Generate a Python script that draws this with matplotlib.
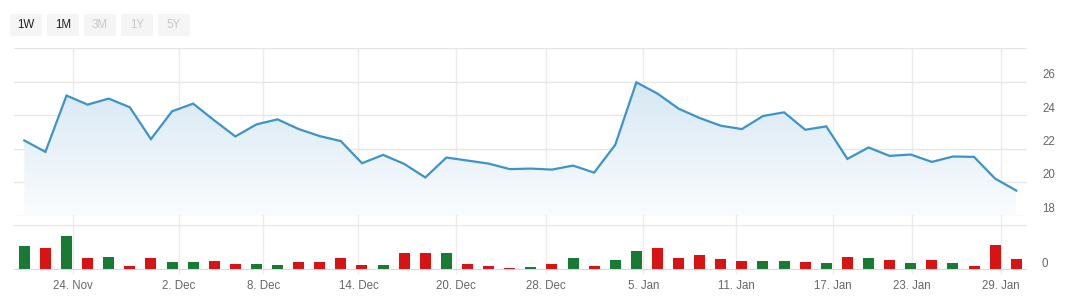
import numpy as np
import matplotlib
matplotlib.use("Agg")
import matplotlib.pyplot as plt
from matplotlib.patches import FancyBboxPatch
from matplotlib.colors import LinearSegmentedColormap

plt.rcParams['font.family'] = ['Liberation Sans', 'DejaVu Sans']

# ---------------- data ----------------
prices = [22.48, 21.80, 25.16, 24.62, 24.98, 24.46, 22.56, 24.22, 24.68, 23.68,
          22.72, 23.44, 23.74, 23.16, 22.74, 22.44, 21.12, 21.62, 21.08, 20.27,
          21.46, 21.28, 21.10, 20.77, 20.80, 20.74, 20.98, 20.56, 22.22, 25.95,
          25.28, 24.38, 23.82, 23.36, 23.16, 23.94, 24.16, 23.12, 23.32, 21.38,
          22.06, 21.56, 21.64, 21.20, 21.52, 21.50, 20.20, 19.49]
volumes = [24, 22, 34, 12, 13, 4, 12, 8, 8, 9,
           6, 6, 5, 8, 8, 12, 5, 5, 17, 17,
           17, 6, 4, 2, 3, 6, 12, 4, 10, 19,
           22, 12, 15, 11, 9, 9, 9, 8, 7, 13,
           12, 10, 7, 10, 7, 4, 25, 11]
direction = ['up', 'down', 'up', 'down', 'up', 'down', 'down', 'up', 'up', 'down',
             'down', 'up', 'up', 'down', 'down', 'down', 'down', 'up', 'down', 'down',
             'up', 'down', 'down', 'down', 'up', 'down', 'up', 'down', 'up', 'up',
             'down', 'down', 'down', 'down', 'down', 'up', 'up', 'down', 'up', 'down',
             'up', 'down', 'up', 'down', 'up', 'down', 'down', 'down']
tick_labels = ['24. Nov', '2. Dec', '8. Dec', '14. Dec', '20. Dec', '28. Dec',
               '5. Jan', '11. Jan', '17. Jan', '23. Jan', '29. Jan']
tick_index = [2.32, 7.32, 11.32, 15.83, 20.44, 24.73, 29.33, 33.73, 38.32, 42.06, 46.29]
price_ticks = [18, 20, 22, 24, 26]
buttons = ['1W', '1M', '3M', '1Y', '5Y']
button_active = [True, True, False, False, False]

# ---------------- layout ----------------
W, H = 1073, 305
fig = plt.figure(figsize=(W / 100, H / 100), dpi=100)
fig.patch.set_facecolor('white')

def fx(px):
    return px / W

def fy(py):
    return 1 - py / H

left, right = 14, 1027
xlim = (-0.488, 47.51)
grid_c = '#e6e6e6'
label_c = '#666666'

# background axes for vertical gridlines spanning both panes
bg = fig.add_axes([fx(left), fy(274), fx(right - left), (274 - 48) / H])
bg.set_xlim(*xlim)
bg.set_ylim(0, 1)
bg.axis('off')
for t in tick_index:
    bg.axvline(t, color='#ececec', lw=1, zorder=0)

# price axes
ax = fig.add_axes([fx(left), fy(215.5), fx(right - left), (215.5 - 48) / H])
ax.patch.set_alpha(0)
ax.set_xlim(*xlim)
ax.set_ylim(18, 28)
for s in ax.spines.values():
    s.set_visible(False)
ax.set_xticks([])
ax.set_yticks([])
for g in [18, 20, 22, 24, 26, 28]:
    ax.axhline(g, color=grid_c, lw=1, zorder=1)

x = np.arange(len(prices))
# gradient fill under line
poly = ax.fill_between(x, prices, 18, color='none', lw=0)
cmap = LinearSegmentedColormap.from_list('g', ['#fafcfe', '#d6e7f3'])
grad = np.linspace(0, 1, 256).reshape(-1, 1)
im = ax.imshow(grad, cmap=cmap, origin='lower', aspect='auto',
               extent=[x[0], x[-1], 18, 26.2], zorder=2, interpolation='bilinear')
im.set_clip_path(poly.get_paths()[0], transform=ax.transData)
ax.plot(x, prices, color='#3b94cb', lw=1.6, zorder=3, solid_joinstyle='miter')

for v in price_ticks:
    ax.annotate(str(v), xy=(1, v), xycoords=('axes fraction', 'data'),
                xytext=(15, 6.5), textcoords='offset pixels',
                ha='left', va='center', fontsize=8.3, color=label_c)

# volume axes
vax = fig.add_axes([fx(left), fy(270), fx(right - left), (270 - 225) / H])
vax.patch.set_alpha(0)
vax.set_xlim(*xlim)
vax.set_ylim(0, 45)
for s in vax.spines.values():
    s.set_visible(False)
vax.set_xticks([])
vax.set_yticks([])
vax.axhline(45, color=grid_c, lw=1, zorder=1)
colors = ['#187a33' if d == 'up' else '#d81313' for d in direction]
vax.bar(x, volumes, width=0.52, color=colors, zorder=2)
vax.axhline(0, color='#d9d9d9', lw=2.2, zorder=3)
vax.annotate('0', xy=(1, 0), xycoords='axes fraction',
             xytext=(15, 6), textcoords='offset pixels',
             ha='left', va='center', fontsize=8.3, color=label_c)

# x tick labels
for t, lab in zip(tick_index, tick_labels):
    vax.annotate(lab, xy=(t, 0), xycoords=('data', 'axes fraction'),
                 xytext=(0, -16), textcoords='offset pixels',
                 ha='center', va='center', fontsize=8.3, color=label_c)

# range buttons
bx = fig.add_axes([0, 0, 1, 1])
bx.set_xlim(0, W)
bx.set_ylim(H, 0)
bx.axis('off')
for i, (b, act) in enumerate(zip(buttons, button_active)):
    x0 = 10 + i * 37
    bx.add_patch(FancyBboxPatch((x0, 14), 32, 22,
                                boxstyle='round,pad=0,rounding_size=2',
                                fc='#f5f5f5', ec='none'))
    bx.text(x0 + 16, 25.5, b, ha='center', va='center', fontsize=8.3,
            color='#222222' if act else '#c8c8c8')

fig.savefig('out.png', dpi=100, facecolor='white')
